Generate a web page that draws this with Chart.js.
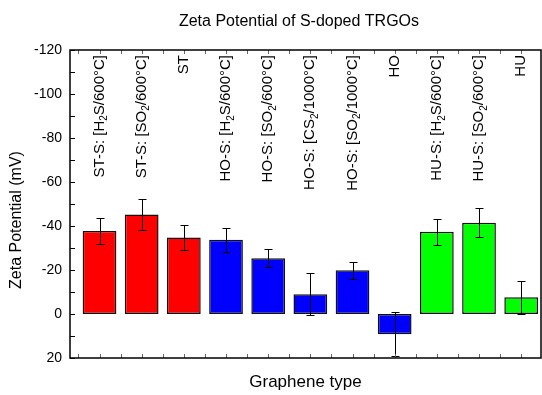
<!DOCTYPE html>
<html>
<head>
<meta charset="utf-8">
<script src="https://cdn.jsdelivr.net/npm/chart.js@4.4.1/dist/chart.umd.min.js"></script>
<style>
  html, body { margin: 0; padding: 0; background: #fff; }
  canvas { display: block; }
</style>
</head>
<body>
<canvas id="grafica" width="542" height="395"></canvas>
<script>
// mostres (el "_2" es dibuixa com a subíndex)
var categories = ['ST-S: [H_2S/600°C]', 'ST-S: [SO_2/600°C]', 'ST',
    'HO-S: [H_2S/600°C]', 'HO-S: [SO_2/600°C]', 'HO-S: [CS_2/1000°C]', 'HO-S: [SO_2/1000°C]', 'HO',
    'HU-S: [H_2S/600°C]', 'HU-S: [SO_2/600°C]', 'HU'];
// potencial zeta (mV) i error
var zeta = [-37.7, -45.2, -34.8, -33.7, -25.3, -9.0, -19.9, 9.2, -37.4, -41.5, -7.6];
var errors = [6.0, 7.2, 5.5, 5.6, 4.1, 9.5, 3.8, 9.9, 6.0, 6.5, 7.5];
var colors = ['#ff0000', '#ff0000', '#ff0000',
    '#0000ff', '#0000ff', '#0000ff', '#0000ff', '#0000ff',
    '#00ff00', '#00ff00', '#00ff00'];
var yTicks = [-120, -100, -80, -60, -40, -20, 0, 20];

var family = '"Liberation Sans", Arial, sans-serif';

window.onload = function () {

    // separa el text en trossos normals i subíndexs
    function trossos(text) {
        var out = [];
        text.split(/(_\d)/).forEach(function (p) {
            if (!p) return;
            if (p[0] === '_') out.push({ t: p.slice(1), sub: true });
            else out.push({ t: p, sub: false });
        });
        return out;
    }

    var extres = {
        id: 'extres',
        afterDatasetsDraw: function (chart) {
            var ctx = chart.ctx, a = chart.chartArea;
            var xs = chart.scales.x, ys = chart.scales.y;
            ctx.save();

            // barres d'error
            ctx.strokeStyle = '#000';
            ctx.lineWidth = 1;
            zeta.forEach(function (v, i) {
                var x = Math.round(xs.getPixelForValue(i + 1)) + 0.5;
                var y1 = Math.round(ys.getPixelForValue(v - errors[i])) + 0.5;
                var y2 = Math.round(ys.getPixelForValue(v + errors[i])) + 0.5;
                ctx.beginPath();
                ctx.moveTo(x, y1); ctx.lineTo(x, y2);
                ctx.moveTo(x - 4, y1); ctx.lineTo(x + 4, y1);
                ctx.moveTo(x - 4, y2); ctx.lineTo(x + 4, y2);
                ctx.stroke();
            });

            // marques cap a dins
            ctx.beginPath();
            for (var v = -120; v <= 20; v += 10) {
                var py = Math.round(ys.getPixelForValue(v)) + 0.5;
                ctx.moveTo(a.left, py); ctx.lineTo(a.left + 5, py);
            }
            ctx.stroke();
            ctx.strokeStyle = '#666';
            ctx.beginPath();
            for (var k = 0.5; k <= 11; k += 0.5) {
                var px = Math.round(xs.getPixelForValue(k)) + 0.5;
                ctx.moveTo(px, a.bottom); ctx.lineTo(px, a.bottom - 4);
                ctx.moveTo(px, a.top); ctx.lineTo(px, a.top + 4);
            }
            ctx.stroke();

            // marc
            ctx.strokeStyle = '#000';
            ctx.lineWidth = 1.5;
            ctx.strokeRect(a.left, a.top, a.right - a.left, a.bottom - a.top);

            // etiquetes verticals
            ctx.fillStyle = '#000';
            ctx.textBaseline = 'middle';
            ctx.textAlign = 'left';
            categories.forEach(function (nom, i) {
                var parts = trossos(nom);
                var total = 0;
                parts.forEach(function (p) {
                    ctx.font = (p.sub ? 10 : 15) + 'px ' + family;
                    p.w = ctx.measureText(p.t).width;
                    total += p.w;
                });
                ctx.save();
                ctx.translate(xs.getPixelForValue(i + 1), a.top + 5);
                ctx.rotate(-Math.PI / 2);
                var pos = -total;
                parts.forEach(function (p) {
                    ctx.font = (p.sub ? 10 : 15) + 'px ' + family;
                    ctx.fillText(p.t, pos, p.sub ? 5 : 0);
                    pos += p.w;
                });
                ctx.restore();
            });

            // títol i títol de l'eix Y
            ctx.textAlign = 'center';
            ctx.font = '16px ' + family;
            ctx.fillText('Zeta Potential of S-doped TRGOs', 299, 22);
            ctx.save();
            ctx.translate(17, 220);
            ctx.rotate(-Math.PI / 2);
            ctx.fillText('Zeta Potential (mV)', 0, 0);
            ctx.restore();

            ctx.restore();
        }
    };

    var dades = zeta.map(function (v, i) { return { x: i + 1, y: v }; });

    var ctx = document.getElementById('grafica');
    var grafica = new Chart(ctx, {
        type: 'bar',
        data: {
            datasets: [{
                data: dades,
                backgroundColor: colors,
                borderColor: '#111',
                borderWidth: 1.5,
                borderSkipped: false,
                categoryPercentage: 1,
                barPercentage: 0.8
            }]
        },
        options: {
            responsive: false,
            animation: false,
            layout: { padding: { top: 50, right: 1, left: 0, bottom: 0 } },
            plugins: {
                legend: { display: false },
                title: { display: false },
                tooltip: { enabled: false }
            },
            scales: {
                x: {
                    type: 'linear',
                    min: 0.3,
                    max: 11.47,
                    offset: false,
                    ticks: { display: false },
                    grid: { display: false, drawTicks: false },
                    border: { display: false },
                    title: {
                        display: true,
                        text: 'Graphene type',
                        color: '#000',
                        font: { size: 17, family: family },
                        padding: { top: 0, bottom: 2 }
                    },
                    afterFit: function (s) { s.height = 37; }
                },
                y: {
                    min: -120,
                    max: 20,
                    reverse: true,
                    afterBuildTicks: function (s) {
                        s.ticks = yTicks.map(function (v) { return { value: v }; });
                    },
                    ticks: { color: '#000', font: { size: 14, family: family }, padding: 8 },
                    grid: { display: false, drawTicks: false },
                    border: { display: false },
                    afterFit: function (s) { s.width = 70; }
                }
            }
        },
        plugins: [extres]
    });
};
</script>
</body>
</html>
